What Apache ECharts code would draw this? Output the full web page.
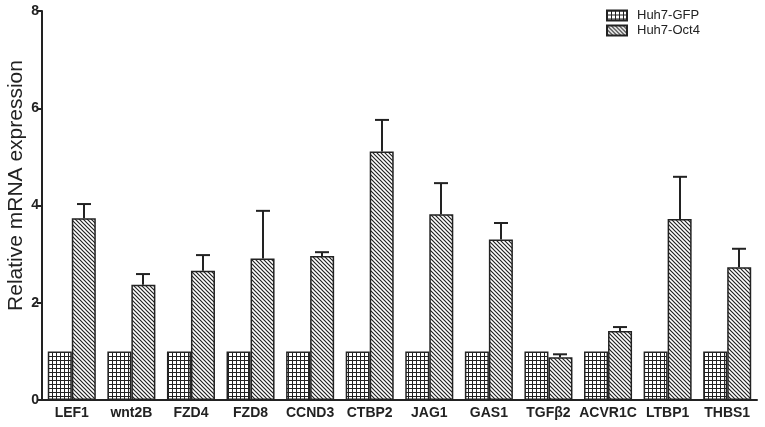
<!DOCTYPE html>
<html>
<head>
<meta charset="utf-8">
<script src="https://cdn.jsdelivr.net/npm/echarts@6/dist/echarts.min.js"></script>
<style>html,body{margin:0;padding:0;background:#fff}#c{width:765px;height:427px}</style>
</head>
<body>
<div id="c"></div>
<script>
const categories = ['LEF1','wnt2B','FZD4','FZD8','CCND3','CTBP2','JAG1','GAS1','TGFβ2','ACVR1C','LTBP1','THBS1'];
const gfpValues = [1,1,1,1,1,1,1,1,1,1,1,1];
const oct4Values = [3.74,2.37,2.66,2.91,2.96,5.11,3.82,3.30,0.88,1.42,3.72,2.73];
const oct4ErrTop = [4.03,2.59,2.98,3.89,3.04,5.76,4.46,3.64,0.94,1.50,4.59,3.11];
const yTicks = [0,2,4,6,8];

function gridPattern(){
  const c = document.createElement('canvas'); c.width = 4; c.height = 4;
  const g = c.getContext('2d');
  g.fillStyle = '#fff'; g.fillRect(0,0,4,4);
  g.fillStyle = '#222'; g.fillRect(0,0,4,1); g.fillRect(0,0,1,4);
  return c;
}
function diagPattern(){
  const s = 4;
  const c = document.createElement('canvas'); c.width = s; c.height = s;
  const g = c.getContext('2d');
  g.fillStyle = '#fff'; g.fillRect(0,0,s,s);
  g.strokeStyle = '#222'; g.lineWidth = 1.2;
  g.beginPath();
  g.moveTo(-1,-1); g.lineTo(s+1,s+1);
  g.moveTo(-1,s-1); g.lineTo(1,s+1);
  g.moveTo(s-1,-1); g.lineTo(s+1,1);
  g.stroke();
  return c;
}
const gfpFill = {image: gridPattern(), repeat: 'repeat'};
const oct4Fill = {image: diagPattern(), repeat: 'repeat'};

const errData = categories.map((c,i)=>[i, oct4Values[i], oct4ErrTop[i]]);
const font = 'Liberation Sans, Arial, sans-serif';

const chart = echarts.init(document.getElementById('c'));
chart.setOption({
  animation: false,
  backgroundColor: '#fff',
  grid: {left: 42, right: 8, top: 11, bottom: 27, containLabel: false, outerBoundsMode: 'none'},
  legend: {
    orient: 'vertical', left: 606, top: 9, padding: 0, itemWidth: 20, itemHeight: 10, itemGap: 2,
    icon: 'rect',
    textStyle: {fontFamily: font, fontSize: 13, color: '#222', padding: [0,0,0,5]},
    data: ['Huh7-GFP','Huh7-Oct4']
  },
  xAxis: {
    type: 'category', data: categories, boundaryGap: true,
    axisLine: {lineStyle: {color: '#222', width: 2}},
    axisTick: {alignWithLabel: true, length: 4, lineStyle: {color: '#222', width: 2}},
    axisLabel: {fontFamily: font, fontSize: 14, fontWeight: 'bold', color: '#222', margin: 6, interval: 0}
  },
  yAxis: {
    type: 'value', min: 0, max: 8, interval: 2,
    name: 'Relative mRNA expression', nameLocation: 'middle', nameGap: 15, nameMoveOverlap: false,
    nameTextStyle: {fontFamily: font, fontSize: 21, color: '#222', fontWeight: 500, padding: [0,0,0,40]},
    splitLine: {show: false},
    axisLine: {show: true, lineStyle: {color: '#222', width: 2}},
    axisTick: {show: true, length: 5, lineStyle: {color: '#222', width: 2}},
    axisLabel: {fontFamily: font, fontSize: 14, fontWeight: 'bold', color: '#222', margin: 3,
      formatter: v => yTicks.includes(v) ? String(v) : ''}
  },
  series: [
    {name: 'Huh7-GFP', type: 'bar', data: gfpValues, barWidth: '40.3%', barGap: '0%',
     itemStyle: {color: gfpFill, borderColor: '#222', borderWidth: 1.5}},
    {name: 'Huh7-Oct4', type: 'bar', data: oct4Values, barWidth: '40.3%', barGap: '0%',
     itemStyle: {color: oct4Fill, borderColor: '#222', borderWidth: 1.5}},
    {name: 'err', type: 'custom', data: errData, z: 10,
     encode: {x: 0, y: [1,2]},
     renderItem: function(params, api){
       const idx = api.value(0);
       const bw = api.size([1,0])[0];
       const off = bw * 0.2017;
       const p1 = api.coord([idx, api.value(1)]);
       const p2 = api.coord([idx, api.value(2)]);
       const x = Math.round(p1[0] + off);
       const half = 7;
       const st = {stroke: '#222', lineWidth: 2};
       return {type: 'group', children: [
         {type: 'line', shape: {x1: x, y1: p1[1], x2: x, y2: p2[1]}, style: st},
         {type: 'line', shape: {x1: x - half, y1: p2[1], x2: x + half, y2: p2[1]}, style: st}
       ]};
     }}
  ]
});
</script>
</body>
</html>
